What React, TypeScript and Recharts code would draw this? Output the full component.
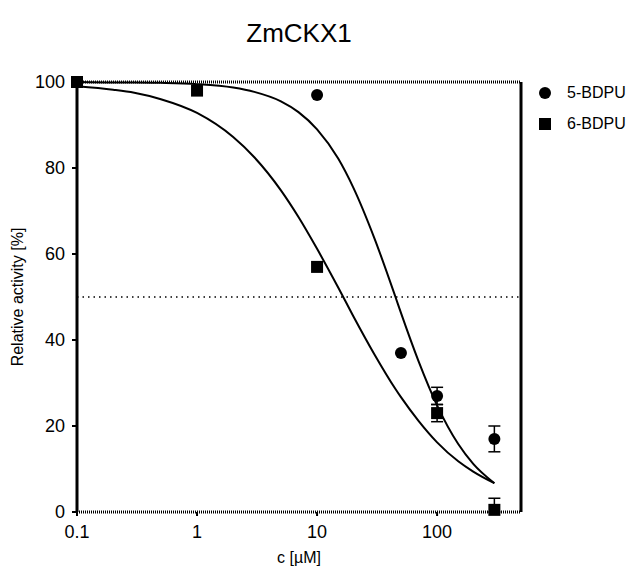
import React from 'react';
import {
  ComposedChart, Line, Scatter, XAxis, YAxis, ErrorBar, ReferenceLine, Label,
} from 'recharts';

// measured points (concentration in µM, relative activity in %)
const bdpu5Conc = [0.1, 10, 50, 100, 300];
const bdpu5Act = [100, 97, 37, 27, 17];
const bdpu5Err = [null, null, null, 2, 3];

const bdpu6Conc = [0.1, 1, 10, 100, 300];
const bdpu6Act = [100, 98, 57, 23, 0.5];
// error bars are cut at the x axis in the original plot: [down, up]
const bdpu6Err = [null, null, null, [2, 2], [0.5, 2.7]];

// fitted curves
const fitConc = [0.1, 0.2, 0.3, 0.5, 1, 2, 3, 5, 7, 10, 15, 20, 30, 45, 50, 70, 100, 150, 200, 300];
const fit5 = [100, 99.9, 99.9, 99.8, 99.5, 98.7, 97.7, 95.5, 93.0, 89.0, 82.2, 75.5, 63.7, 50, 46.3, 35.1, 24.8, 15.8, 11.2, 6.7];
const fit6 = [99.0, 98.2, 97.5, 96.0, 92.8, 87.2, 82.5, 74.8, 68.6, 61.2, 52.2, 45.6, 36.7, 28.6, 26.7, 21.2, 16.2, 11.8, 9.4, 6.7];

const xTicks = [0.1, 1, 10, 100];
const yTicks = [0, 20, 40, 60, 80, 100];

const legendItems = [
  { name: '5-BDPU', shape: 'circle' },
  { name: '6-BDPU', shape: 'square' },
];

const FONT = '"Liberation Sans", Arial, sans-serif';

const pts5 = bdpu5Conc.map((x, i) => ({ x, y: bdpu5Act[i], err: bdpu5Err[i] }));
const pts6 = bdpu6Conc.map((x, i) => ({ x, y: bdpu6Act[i], err: bdpu6Err[i] }));
const curve5 = fitConc.map((x, i) => ({ x, y: fit5[i] }));
const curve6 = fitConc.map((x, i) => ({ x, y: fit6[i] }));

const CircleShape = (p: any) => <circle cx={p.cx} cy={p.cy} r={6} fill="#000" />;
const SquareShape = (p: any) => <rect x={p.cx - 6} y={p.cy - 6} width={12} height={12} fill="#000" />;

const App: React.FC = () => {
  return (
    <div style={{ position: 'absolute', left: 0, top: 0, width: 628, height: 568, background: '#fff', fontFamily: FONT }}>
      <div style={{ position: 'absolute', left: 77, width: 444, top: 18, textAlign: 'center', fontSize: 26, lineHeight: '30px', color: '#000' }}>
        ZmCKX1
      </div>
      <div style={{ position: 'absolute', left: 538, top: 77, fontSize: 16, color: '#000', whiteSpace: 'nowrap' }}>
        {legendItems.map((item) => (
          <div key={item.name} style={{ display: 'flex', alignItems: 'center', height: 31 }}>
            <svg width={14} height={14} style={{ marginRight: 15, flexShrink: 0 }}>
              {item.shape === 'circle'
                ? <circle cx={7} cy={7} r={6} fill="#000" />
                : <rect x={1} y={1} width={12} height={12} fill="#000" />}
            </svg>
            <span>{item.name}</span>
          </div>
        ))}
      </div>
      <ComposedChart
        width={628}
        height={568}
        margin={{ top: 82, right: 107, bottom: 0, left: 0 }}
        style={{ position: 'absolute', left: 0, top: 0, fontFamily: FONT }}
      >
        <XAxis
          dataKey="x"
          type="number"
          scale="log"
          domain={[0.1, 500]}
          ticks={xTicks}
          tickFormatter={(v: number) => String(v)}
          tick={{ fill: '#000', fontSize: 18 }}
          axisLine={{ stroke: '#000', strokeWidth: 3, strokeDasharray: '1 1' }}
          tickLine={{ stroke: '#000', strokeWidth: 2 }}
          tickSize={4}
          tickMargin={9}
          height={56}
        >
          <Label value="c [µM]" position="center" dy={17} fill="#000" fontSize={16} />
        </XAxis>
        <YAxis
          type="number"
          domain={[0, 100]}
          ticks={yTicks}
          tick={{ fill: '#000', fontSize: 18, dx: -5 }}
          axisLine={{ stroke: '#000', strokeWidth: 3 }}
          tickLine={{ stroke: '#000', strokeWidth: 2 }}
          tickSize={5}
          width={77}
        >
          <Label value="Relative activity [%]" angle={-90} position="center" dx={-21} fill="#000" fontSize={16} />
        </YAxis>
        <ReferenceLine y={100} stroke="#000" strokeWidth={3} strokeDasharray="1 1" />
        <ReferenceLine x={500} stroke="#000" strokeWidth={3} />
        <ReferenceLine y={50} stroke="#000" strokeWidth={1.5} strokeDasharray="1.5 4" />
        <Line data={curve5} dataKey="y" type="monotone" stroke="#000" strokeWidth={2} dot={false} isAnimationActive={false} />
        <Line data={curve6} dataKey="y" type="monotone" stroke="#000" strokeWidth={2} dot={false} isAnimationActive={false} />
        <Scatter name="5-BDPU" data={pts5} dataKey="y" shape={CircleShape} isAnimationActive={false}>
          <ErrorBar dataKey="err" direction="y" width={6} stroke="#000" strokeWidth={1.5} />
        </Scatter>
        <Scatter name="6-BDPU" data={pts6} dataKey="y" shape={SquareShape} isAnimationActive={false}>
          <ErrorBar dataKey="err" direction="y" width={6} stroke="#000" strokeWidth={1.5} />
        </Scatter>
      </ComposedChart>
    </div>
  );
};

export default App;
